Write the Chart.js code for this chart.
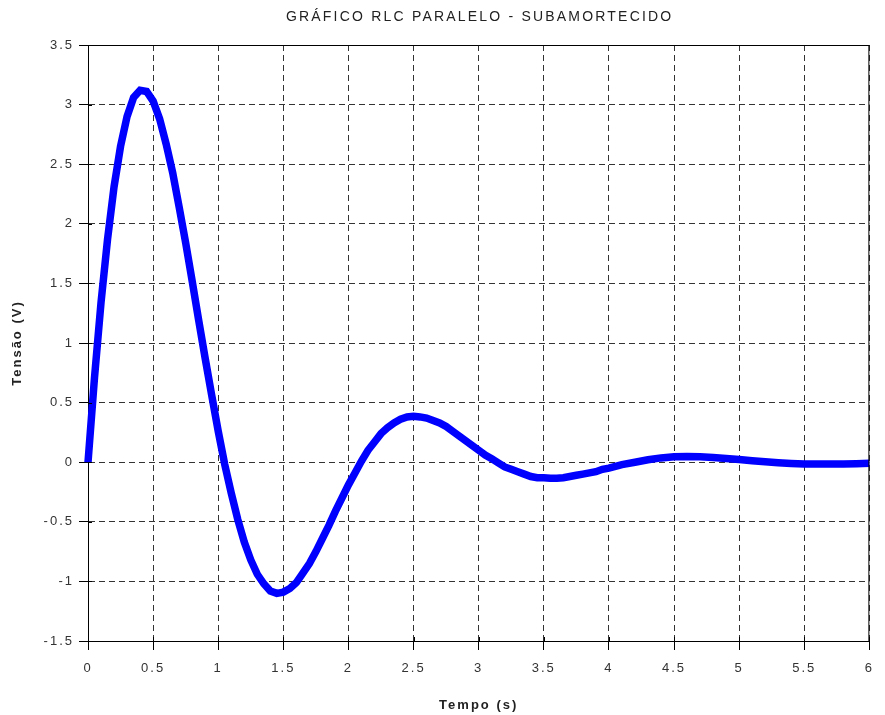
<!DOCTYPE html>
<html>
<head>
<meta charset="utf-8">
<script src="https://cdn.jsdelivr.net/npm/chart.js@4"></script>
<style>
  html, body { margin: 0; padding: 0; background: #fff; }
  #wrap { width: 885px; height: 715px; }
</style>
</head>
<body>
<div id="wrap"><canvas id="rlcChart" width="885" height="715"></canvas></div>
<script>
// Tempo (s) and Tensão (V)
const tempo = [
  0, 0.05, 0.1, 0.15, 0.2, 0.25, 0.3, 0.35, 0.4, 0.45,
  0.5, 0.55, 0.6, 0.65, 0.7, 0.75, 0.8, 0.85, 0.9, 0.95,
  1, 1.05, 1.1, 1.15, 1.2, 1.25, 1.3, 1.35, 1.4, 1.45,
  1.5, 1.55, 1.6, 1.65, 1.7, 1.75, 1.8, 1.85, 1.9, 1.95,
  2, 2.05, 2.1, 2.15, 2.2, 2.25, 2.3, 2.35, 2.4, 2.45,
  2.5, 2.55, 2.6, 2.65, 2.7, 2.75, 2.8, 2.85, 2.9, 2.95,
  3, 3.05, 3.1, 3.15, 3.2, 3.25, 3.3, 3.35, 3.4, 3.45,
  3.5, 3.55, 3.6, 3.65, 3.7, 3.75, 3.8, 3.85, 3.9, 3.95,
  4, 4.1, 4.2, 4.3, 4.4, 4.5, 4.6, 4.7, 4.8, 4.9,
  5, 5.1, 5.2, 5.3, 5.4, 5.5, 5.6, 5.7, 5.8, 5.9, 6
];
const tensao = [
  0, 0.71, 1.34, 1.87, 2.31, 2.65, 2.90, 3.06, 3.12, 3.11,
  3.03, 2.88, 2.67, 2.43, 2.14, 1.84, 1.52, 1.19, 0.87, 0.56,
  0.26, -0.02, -0.26, -0.48, -0.67, -0.82, -0.94, -1.02, -1.08, -1.10,
  -1.09, -1.06, -1.01, -0.93, -0.85, -0.75, -0.64, -0.53, -0.41, -0.30,
  -0.19, -0.09, 0.01, 0.10, 0.17, 0.24, 0.29, 0.33, 0.36, 0.38,
  0.385, 0.38, 0.37, 0.35, 0.33, 0.30, 0.26, 0.22, 0.18, 0.14,
  0.10, 0.06, 0.03, -0.005, -0.04, -0.06, -0.08, -0.10, -0.12, -0.13,
  -0.13, -0.135, -0.134, -0.13, -0.12, -0.11, -0.10, -0.09, -0.08, -0.06,
  -0.05, -0.02, 0.00, 0.02, 0.036, 0.045, 0.048, 0.045, 0.04, 0.031,
  0.022, 0.012, 0.003, -0.005, -0.011, -0.015, -0.016, -0.016, -0.015, -0.012, -0.009
];
const xTicks = [0, 0.5, 1, 1.5, 2, 2.5, 3, 3.5, 4, 4.5, 5, 5.5, 6];
const yTicks = [-1.5, -1, -0.5, 0, 0.5, 1, 1.5, 2, 2.5, 3, 3.5];

const chartTitle = 'GRÁFICO RLC PARALELO - SUBAMORTECIDO';
const FONT = "'Liberation Sans', Arial, sans-serif";

// the reference text is loosely spaced; canvas state is reset on resize so set it each pass
const spacingPlugin = {
  id: 'spacing',
  beforeUpdate(chart) { chart.ctx.letterSpacing = '2px'; },
  beforeDraw(chart) { chart.ctx.letterSpacing = '2px'; }
};

// title over the plot area, top/right frame lines, and tick stubs crossing into the plot
const framePlugin = {
  id: 'frame',
  afterDraw(chart) {
    const { ctx, chartArea: a, scales } = chart;
    ctx.save();
    ctx.strokeStyle = '#000';
    ctx.lineWidth = 1;
    ctx.setLineDash([]);
    ctx.beginPath();
    ctx.moveTo(a.left, a.top + 0.5);
    ctx.lineTo(a.right, a.top + 0.5);
    ctx.moveTo(a.right - 0.5, a.top);
    ctx.lineTo(a.right - 0.5, a.bottom);
    xTicks.forEach(v => {
      const px = Math.round(scales.x.getPixelForValue(v)) + 0.5;
      ctx.moveTo(px, a.bottom);
      ctx.lineTo(px, a.bottom - 4);
    });
    yTicks.forEach(v => {
      const py = Math.round(scales.y.getPixelForValue(v)) + 0.5;
      ctx.moveTo(a.left, py);
      ctx.lineTo(a.left + 4, py);
    });
    ctx.stroke();
    ctx.fillStyle = '#222';
    ctx.font = '14px ' + FONT;
    ctx.letterSpacing = '2.2px';
    ctx.textAlign = 'center';
    ctx.textBaseline = 'middle';
    ctx.fillText(chartTitle, (a.left + a.right) / 2 + 1, 17);
    ctx.restore();
  }
};

const gridCommon = {
  color: '#333',
  lineWidth: 1,
  tickBorderDash: [],
  tickColor: '#000',
  tickLength: 9,
  drawOnChartArea: true
};
const borderCommon = { display: true, color: '#000', width: 1, dash: [6, 4] };

new Chart(document.getElementById('rlcChart').getContext('2d'), {
  type: 'line',
  data: {
    datasets: [{
      data: tempo.map((t, i) => ({ x: t, y: tensao[i] })),
      borderColor: '#0000ff',
      borderWidth: 7.5,
      pointRadius: 0,
      tension: 0,
      fill: false,
      clip: 4
    }]
  },
  options: {
    responsive: false,
    animation: false,
    layout: { padding: { top: 45, right: 3, left: 0, bottom: 0 } },
    plugins: { legend: { display: false }, tooltip: { enabled: false } },
    scales: {
      x: {
        type: 'linear',
        min: 0, max: 6,
        afterBuildTicks: s => { s.ticks = xTicks.map(v => ({ value: v })); },
        afterFit: s => { s.height = 74; },
        grid: gridCommon,
        border: borderCommon,
        ticks: {
          color: '#333', font: { family: FONT, size: 13 }, padding: 11,
          maxRotation: 0, autoSkip: false,
          callback: v => String(v)
        },
        title: {
          display: true, text: 'Tempo (s)', color: '#222',
          font: { family: FONT, size: 13, weight: 'bold' }, padding: { top: 0, bottom: 2 }
        }
      },
      y: {
        min: -1.5, max: 3.5,
        afterBuildTicks: s => { s.ticks = yTicks.map(v => ({ value: v })); },
        afterFit: s => { s.width = 88; },
        grid: gridCommon,
        border: borderCommon,
        ticks: {
          color: '#333', font: { family: FONT, size: 13 }, padding: 5,
          autoSkip: false,
          callback: v => String(v)
        },
        title: {
          display: true, text: 'Tensão (V)', color: '#222',
          font: { family: FONT, size: 13, weight: 'bold' }, padding: { top: 10, bottom: 0 }
        }
      }
    }
  },
  plugins: [spacingPlugin, framePlugin]
});
</script>
</body>
</html>
